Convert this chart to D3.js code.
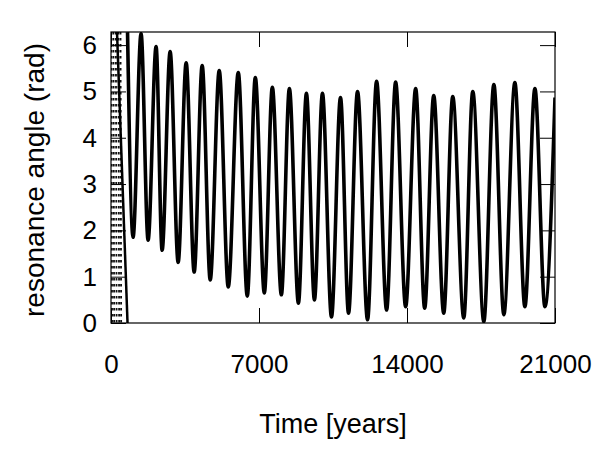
<!DOCTYPE html>
<html>
<head>
<meta charset="utf-8">
<script src="https://cdn.jsdelivr.net/npm/d3@7"></script>
<style>
  body { margin: 0; background: #fff; }
  text { font-family: "Liberation Sans", Arial, Helvetica, sans-serif; }
</style>
</head>
<body>
<svg id="chart" width="600" height="450"></svg>
<script>
// libration extrema: time (years) and angle (rad)
var libTimes = [782, 1043, 1422, 1754, 2133, 2417, 2797, 3176, 3555, 3934, 4313,
  4693, 5119, 5546, 6020, 6446, 6826, 7252, 7631, 8058, 8437, 8864, 9243, 9622,
  10001, 10428, 10855, 11234, 11660, 12134, 12561, 13035, 13462, 13936, 14410,
  14836, 15263, 15737, 16163, 16685, 17111, 17633, 18107, 18581, 19102, 19576,
  20050, 20524, 21000];
var libAngles = [6.28, 1.85, 6.25, 1.79, 5.97, 1.57, 5.86, 1.31, 5.62, 1.10, 5.56,
  0.93, 5.45, 0.78, 5.41, 0.58, 5.30, 0.65, 5.09, 0.61, 5.06, 0.43, 4.96, 0.50,
  4.96, 0.13, 4.87, 0.21, 5.00, 0.07, 5.22, 0.28, 5.20, 0.35, 5.06, 0.32, 4.91,
  0.21, 4.89, 0.11, 5.00, 0.03, 5.15, 0.18, 5.19, 0.35, 5.06, 0.35, 4.87];

// early circulation: each pass runs from 2pi down to 0
var circStart = [20, 115, 230, 350, 450];
var circEnd   = [50, 150, 265, 385, 480];
var lastPass = [284, 782]; // slower final pass before capture

var xTicks = [0, 7000, 14000, 21000];
var yTicks = [0, 1, 2, 3, 4, 5, 6];

var margin = {top: 32, right: 45, bottom: 127, left: 111};
var width = 600 - margin.left - margin.right;
var height = 450 - margin.top - margin.bottom;

var svg = d3.select('#chart');
var g = svg.append('g')
    .attr('transform', 'translate(' + margin.left + ',' + margin.top + ')');

var x = d3.scaleLinear().domain([0, 21000]).range([0, width]);
var y = d3.scaleLinear().domain([0, 2 * Math.PI]).range([height, 0]);

g.append('clipPath').attr('id', 'clip')
  .append('rect').attr('width', width).attr('height', height);

var plot = g.append('g').attr('clip-path', 'url(#clip)');

// fast circulation, drawn as dotted columns
circStart.forEach(function(t, i){
    plot.append('line')
        .attr('x1', x(t)).attr('y1', y(2 * Math.PI))
        .attr('x2', x(circEnd[i])).attr('y2', y(0))
        .attr('stroke', '#111')
        .attr('stroke-width', 1.8)
        .attr('stroke-dasharray', '2.5,3.5');
});

plot.append('line')
    .attr('x1', x(lastPass[0])).attr('y1', y(2 * Math.PI))
    .attr('x2', x(lastPass[1])).attr('y2', y(0))
    .attr('stroke', '#000')
    .attr('stroke-width', 2.5);

var pts = libTimes.map(function(t, i){ return [t, libAngles[i]]; });
var line = d3.line()
    .x(function(d){ return x(d[0]); })
    .y(function(d){ return y(d[1]); })
    .curve(d3.curveMonotoneX);

plot.append('path')
    .datum(pts)
    .attr('d', line)
    .attr('fill', 'none')
    .attr('stroke', '#000')
    .attr('stroke-width', 3.6)
    .attr('stroke-linejoin', 'round');

// axes: gnuplot style, inward ticks mirrored on all sides
function styleAxis(sel){
    sel.select('.domain').remove();
    sel.selectAll('line').attr('stroke', '#000');
    sel.selectAll('text')
        .attr('font-size', 26)
        .attr('fill', '#000')
        .attr('font-family', '"Liberation Sans", Arial, sans-serif');
}

g.append('g')
    .attr('transform', 'translate(0,' + height + ')')
    .call(d3.axisBottom(x).tickValues(xTicks).tickFormat(d3.format('d'))
        .tickSizeInner(-15).tickSizeOuter(0).tickPadding(32))
    .call(styleAxis);
g.append('g')
    .call(d3.axisTop(x).tickValues(xTicks).tickSizeInner(-15).tickSizeOuter(0).tickFormat(''))
    .call(styleAxis);
g.append('g')
    .call(d3.axisLeft(y).tickValues(yTicks).tickFormat(d3.format('d'))
        .tickSizeInner(-15).tickSizeOuter(0).tickPadding(14))
    .call(styleAxis);
g.append('g')
    .attr('transform', 'translate(' + width + ',0)')
    .call(d3.axisRight(y).tickValues(yTicks).tickSizeInner(-15).tickSizeOuter(0).tickFormat(''))
    .call(styleAxis);

g.append('rect')
    .attr('width', width).attr('height', height)
    .attr('fill', 'none').attr('stroke', '#000').attr('stroke-width', 1.2);

svg.append('text')
    .attr('x', margin.left + width / 2).attr('y', 433)
    .attr('text-anchor', 'middle')
    .attr('font-size', 27)
    .text('Time [years]');

svg.append('text')
    .attr('transform', 'translate(44,' + 180 + ') rotate(-90)')
    .attr('text-anchor', 'middle')
    .attr('font-size', 28)
    .text('resonance angle (rad)');
</script>
</body>
</html>
